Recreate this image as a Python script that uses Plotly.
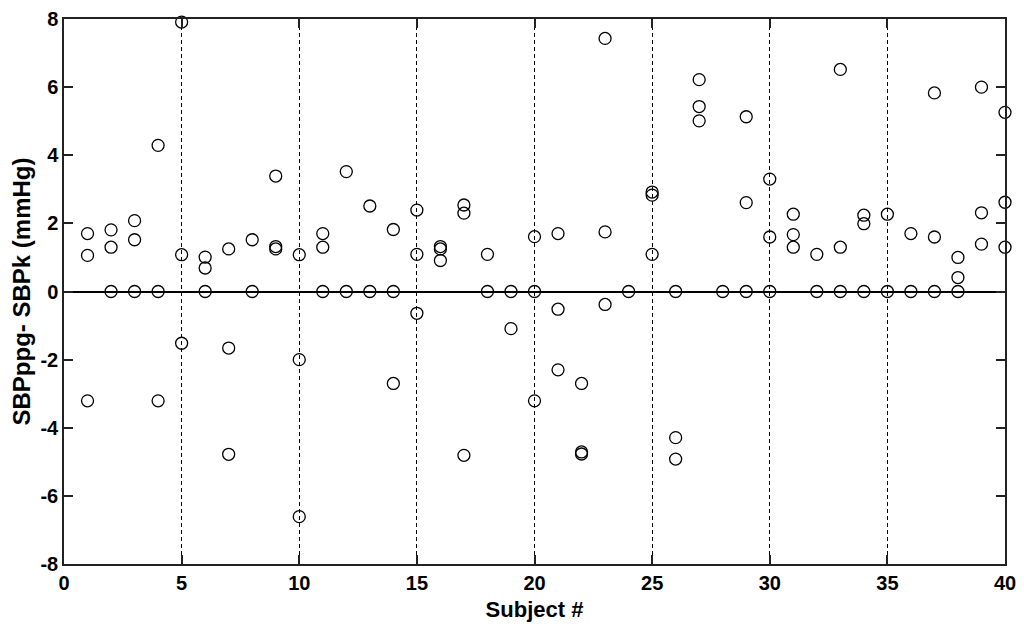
import plotly.graph_objects as go

# Subject number for each measurement
subjects = [
    1, 1, 1,
    2, 2, 2,
    3, 3, 3,
    4, 4, 4,
    5, 5, 5,
    6, 6, 6,
    7, 7, 7,
    8, 8,
    9, 9, 9,
    10, 10, 10,
    11, 11, 11,
    12, 12,
    13, 13,
    14, 14, 14,
    15, 15, 15,
    16, 16, 16,
    17, 17, 17,
    18, 18,
    19, 19,
    20, 20, 20,
    21, 21, 21,
    22, 22, 22,
    23, 23, 23,
    24,
    25, 25, 25,
    26, 26, 26,
    27, 27, 27,
    28,
    29, 29, 29,
    30, 30, 30,
    31, 31, 31,
    32, 32,
    33, 33, 33,
    34, 34, 34,
    35, 35,
    36, 36,
    37, 37, 37,
    38, 38, 38,
    39, 39, 39,
    40, 40, 40,
]

# SBPppg - SBPk differences (mmHg)
differences = [
    1.70, 1.06, -3.21,
    1.81, 1.30, 0.0,
    2.08, 1.52, 0.0,
    4.29, 0.0, -3.21,
    7.91, 1.08, -1.52,
    1.01, 0.69, 0.0,
    1.25, -1.66, -4.78,
    1.52, 0.0,
    3.39, 1.32, 1.25,
    1.08, -2.00, -6.61,
    1.70, 1.30, 0.0,
    3.52, 0.0,
    2.51, 0.0,
    1.82, 0.0, -2.70,
    2.39, 1.09, -0.64,
    1.32, 1.25, 0.91,
    2.54, 2.30, -4.81,
    1.09, 0.0,
    0.0, -1.09,
    1.61, 0.0, -3.21,
    1.70, -0.52, -2.30,
    -2.70, -4.71, -4.77,
    7.43, 1.75, -0.38,
    0.0,
    2.92, 2.83, 1.09,
    0.0, -4.29, -4.92,
    6.22, 5.43, 5.01,
    0.0,
    5.13, 2.61, 0.0,
    3.30, 1.60, 0.0,
    2.27, 1.67, 1.30,
    1.09, 0.0,
    6.52, 1.30, 0.0,
    2.24, 1.99, 0.0,
    2.27, 0.0,
    1.70, 0.0,
    5.83, 1.60, 0.0,
    1.00, 0.41, 0.0,
    6.00, 2.31, 1.39,
    5.26, 2.62, 1.30,
]

x_ticks = [0, 5, 10, 15, 20, 25, 30, 35, 40]
y_ticks = [-8, -6, -4, -2, 0, 2, 4, 6, 8]

font_family = "Liberation Sans, Arial, sans-serif"

fig = go.Figure()
fig.add_trace(go.Scatter(
    x=subjects, y=differences, mode="markers",
    marker=dict(symbol="circle-open", size=12, color="black",
                line=dict(color="black", width=1.3)),
    showlegend=False, cliponaxis=False,
))

# the page body adds an 8px offset, so the figure is 8px smaller
fig.update_layout(
    width=1016, height=629,
    margin=dict(l=56, r=19, t=11, b=73),
    paper_bgcolor="white", plot_bgcolor="white",
    font=dict(family=font_family, color="black"),
    xaxis=dict(
        range=[0, 40], tickvals=x_ticks, ticktext=[str(v) for v in x_ticks],
        showgrid=True, gridcolor="black", gridwidth=1, griddash="4px,3px",
        zeroline=False, automargin=False,
        showline=True, linecolor="#222", linewidth=1.5, mirror="ticks",
        ticks="inside", ticklen=9, tickcolor="#222", tickwidth=1.5,
        tickfont=dict(size=20, family=font_family, weight="bold"),
        title=dict(text="Subject #", font=dict(size=22, family=font_family, weight="bold"), standoff=9),
    ),
    yaxis=dict(
        range=[-8, 8], tickvals=y_ticks, ticktext=[str(v) for v in y_ticks],
        showgrid=False, automargin=False,
        zeroline=True, zerolinecolor="black", zerolinewidth=1.5,
        showline=True, linecolor="#222", linewidth=1.5, mirror="ticks",
        ticks="inside", ticklen=9, tickcolor="#222", tickwidth=1.5,
        tickfont=dict(size=20, family=font_family, weight="bold"),
        title=dict(text="SBPppg- SBPk (mmHg)", font=dict(size=24, family=font_family, weight="bold"), standoff=6),
    ),
)

fig.write_html("out.html")
